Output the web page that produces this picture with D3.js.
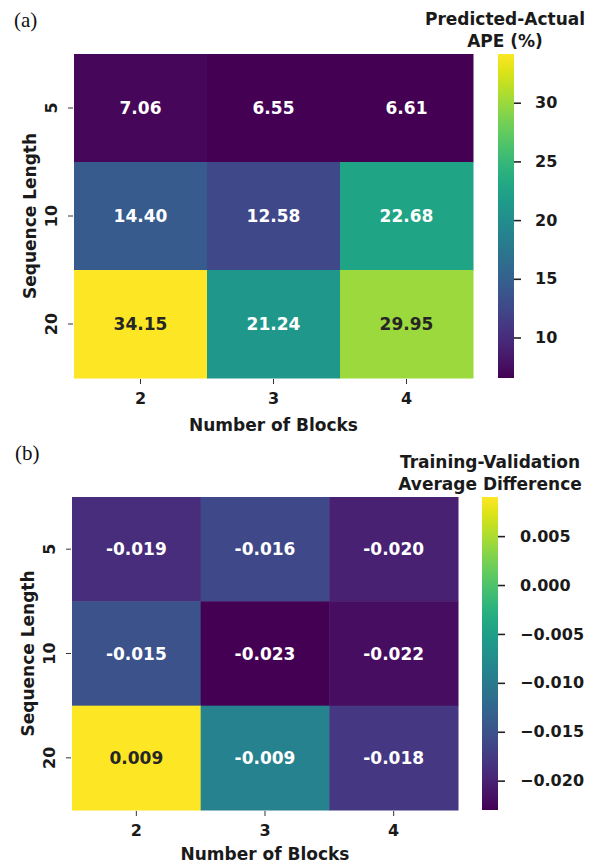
<!DOCTYPE html>
<html>
<head>
<meta charset="utf-8">
<script src="https://cdn.jsdelivr.net/npm/d3@7"></script>
<style>
  html, body { margin: 0; padding: 0; background: #fff; }
  svg { display: block; }
  text { font-family: "DejaVu Sans", sans-serif; font-weight: bold; fill: #1a1a1a; }
  .panel-tag { font-family: "Liberation Serif", "Times New Roman", serif; font-weight: normal; font-size: 21px; fill: #111; }
</style>
</head>
<body>
<svg id="chart" width="600" height="865"></svg>
<script>
// Shared axes categories
const blocks = ["2", "3", "4"];
const seqLengths = ["5", "10", "20"];

// Panel (a): predicted vs actual APE (%), rows = sequence length, cols = blocks
const apeRow5  = [7.06, 6.55, 6.61];
const apeRow10 = [14.40, 12.58, 22.68];
const apeRow20 = [34.15, 21.24, 29.95];
const apeTicks = [10, 15, 20, 25, 30];

// Panel (b): training-validation average difference
const diffRow5  = [-0.019, -0.016, -0.020];
const diffRow10 = [-0.015, -0.023, -0.022];
const diffRow20 = [0.009, -0.009, -0.018];
const diffTicks = [0.005, 0.000, -0.005, -0.010, -0.015, -0.020];

const svg = d3.select("#chart");

// luminance test for annotation colour (dark text on bright cells)
function textColor(c) {
  const rgb = d3.rgb(c);
  const lin = v => { v /= 255; return v <= 0.03928 ? v / 12.92 : Math.pow((v + 0.055) / 1.055, 2.4); };
  const L = 0.2126 * lin(rgb.r) + 0.7152 * lin(rgb.g) + 0.0722 * lin(rgb.b);
  return L > 0.408 ? "#262626" : "#ffffff";
}

function drawPanel(opt) {
  const g = svg.append("g");
  const rows = opt.rows;
  const cells = [];
  rows.forEach((vals, i) => vals.forEach((v, j) => cells.push({ r: seqLengths[i], c: blocks[j], v })));
  const all = cells.map(d => d.v);
  const vmin = d3.min(all), vmax = d3.max(all);

  const x = d3.scaleBand().domain(blocks).range([opt.x0, opt.x1]);
  const y = d3.scaleBand().domain(seqLengths).range([opt.y0, opt.y1]);
  const color = d3.scaleSequential(d3.interpolateViridis).domain([vmin, vmax]);

  g.selectAll("rect.cell").data(cells).join("rect")
    .attr("class", "cell")
    .attr("x", d => x(d.c)).attr("y", d => y(d.r))
    .attr("width", x.bandwidth() + 0.5).attr("height", y.bandwidth() + 0.5)
    .attr("fill", d => color(d.v));

  g.selectAll("text.ann").data(cells).join("text")
    .attr("class", "ann")
    .attr("x", d => x(d.c) + x.bandwidth() / 2)
    .attr("y", d => y(d.r) + y.bandwidth() / 2)
    .attr("text-anchor", "middle").attr("dominant-baseline", "central")
    .style("font-size", "17px")
    .style("fill", d => textColor(color(d.v)))
    .text(d => opt.fmt(d.v));

  // x axis ticks and labels
  const xt = g.append("g");
  blocks.forEach(b => {
    const cx = x(b) + x.bandwidth() / 2;
    xt.append("line").attr("x1", cx).attr("x2", cx).attr("y1", opt.y1 + 1).attr("y2", opt.y1 + 6)
      .attr("stroke", "#333").attr("stroke-width", 1);
    xt.append("text").attr("x", cx).attr("y", opt.y1 + 20)
      .attr("text-anchor", "middle").attr("dominant-baseline", "central")
      .style("font-size", "16px").text(b);
  });
  g.append("text").attr("x", (opt.x0 + opt.x1) / 2).attr("y", opt.y1 + opt.xlabOff)
    .attr("text-anchor", "middle").attr("dominant-baseline", "central")
    .style("font-size", "17px").text("Number of Blocks");

  // y axis ticks and labels (rotated)
  const yt = g.append("g");
  seqLengths.forEach(s => {
    const cy = y(s) + y.bandwidth() / 2;
    yt.append("line").attr("x1", opt.x0 - 6).attr("x2", opt.x0 - 1).attr("y1", cy).attr("y2", cy)
      .attr("stroke", "#333").attr("stroke-width", 1);
    yt.append("text").attr("transform", `translate(${opt.x0 - 23},${cy}) rotate(-90)`)
      .attr("text-anchor", "middle").attr("dominant-baseline", "central")
      .style("font-size", "16px").text(s);
  });
  g.append("text").attr("transform", `translate(${opt.x0 - 44},${(opt.y0 + opt.y1) / 2}) rotate(-90)`)
    .attr("text-anchor", "middle").attr("dominant-baseline", "central")
    .style("font-size", "17px").text("Sequence Length");

  // colour bar
  const gid = "grad-" + opt.id;
  const grad = svg.append("defs").append("linearGradient").attr("id", gid)
    .attr("x1", 0).attr("y1", 1).attr("x2", 0).attr("y2", 0);
  d3.range(0, 1.0001, 0.05).forEach(t => grad.append("stop").attr("offset", t).attr("stop-color", d3.interpolateViridis(t)));
  g.append("rect").attr("x", opt.cbx).attr("y", opt.y0).attr("width", 16).attr("height", opt.y1 - opt.y0)
    .attr("fill", `url(#${gid})`);
  const cy = d3.scaleLinear().domain([vmin, vmax]).range([opt.y1, opt.y0]);
  const axis = d3.axisRight(cy).tickValues(opt.ticks).tickSize(7).tickPadding(opt.tickPad)
    .tickFormat(opt.tickFmt);
  const ag = g.append("g").attr("transform", `translate(${opt.cbx + 16},0)`).call(axis);
  ag.select(".domain").remove();
  ag.selectAll(".tick line").attr("stroke", "#222").attr("stroke-width", 1.6);
  ag.selectAll(".tick text").style("font-size", "16px").style("font-family", "DejaVu Sans")
    .style("font-weight", "bold").attr("fill", "#1a1a1a");

  // colour bar title
  opt.title.forEach((t, i) => {
    g.append("text").attr("x", opt.titleX).attr("y", opt.titleY + i * 22)
      .attr("text-anchor", "middle").attr("dominant-baseline", "central")
      .style("font-size", "17px").text(t);
  });

  svg.append("text").attr("class", "panel-tag").attr("x", opt.tagX).attr("y", opt.tagY).text(opt.tag);
}

drawPanel({
  id: "a", tag: "(a)", tagX: 14, tagY: 27,
  rows: [apeRow5, apeRow10, apeRow20],
  x0: 74, x1: 473, y0: 54, y1: 378, cbx: 498, xlabOff: 47,
  ticks: apeTicks, tickFmt: d3.format("d"), tickPad: 14,
  fmt: d3.format(".2f"),
  title: ["Predicted-Actual", "APE (%)"], titleX: 505, titleY: 19
});

drawPanel({
  id: "b", tag: "(b)", tagX: 15, tagY: 460,
  rows: [diffRow5, diffRow10, diffRow20],
  x0: 72, x1: 458, y0: 497, y1: 810, cbx: 482, xlabOff: 44,
  ticks: diffTicks, tickFmt: v => d3.format(".3f")(v).replace("-", "\u2212"), tickPad: 15,
  fmt: v => d3.format(".3f")(v).replace("\u2212", "-"),
  title: ["Training-Validation", "Average Difference"], titleX: 490, titleY: 462
});
</script>
</body>
</html>
